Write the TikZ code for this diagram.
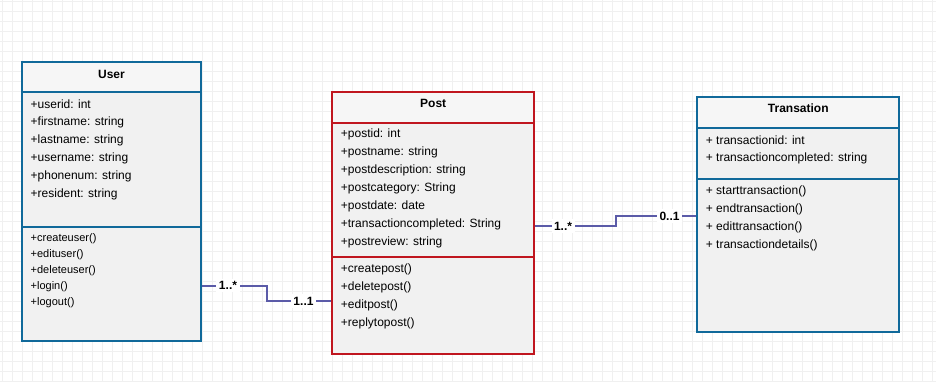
\documentclass[tikz,border=0pt]{standalone}
\usepackage{fontspec}
\setmainfont{Liberation Sans}
\begin{document}
\definecolor{gridc}{HTML}{F0F0F0}
\definecolor{bluec}{HTML}{10699A}
\definecolor{redc}{HTML}{C0161F}
\definecolor{assocc}{HTML}{5B5BA8}
\definecolor{headfill}{HTML}{F6F6F6}
\definecolor{bodyfill}{HTML}{F1F1F1}
\tikzset{
  classbox/.style={draw=#1, line width=2pt, fill=bodyfill, inner sep=0pt, outer sep=0pt, anchor=north west},
  outline/.style={draw=#1, line width=2pt},
  divider/.style={draw=#1, line width=2pt},
  title/.style={font=\fontsize{12}{14}\selectfont\bfseries, inner sep=0pt, anchor=center},
  member/.style={font=\fontsize{12}{14}\selectfont, inner sep=0pt, anchor=west},
  smallmember/.style={font=\fontsize{11}{13}\selectfont, inner sep=0pt, anchor=west},
  assoc/.style={draw=assocc, line width=2pt},
  mult/.style={font=\fontsize{12}{14}\selectfont\bfseries, fill=white, inner sep=2.5pt, anchor=center}
}
\begin{tikzpicture}[x=1pt,y=-1pt]
  \useasboundingbox (0,0) rectangle (936,381);
  \fill[white] (0,0) rectangle (936,381);
  % background grid
  \foreach \gx in {0,...,93} {\draw[gridc, line width=1pt] (2.5+10*\gx,0) -- (2.5+10*\gx,381);}
  \foreach \gy in {0,...,38} {\draw[gridc, line width=1pt] (0,1+10*\gy) -- (936,1+10*\gy);}

  % ---- User ----
  \node[classbox=bluec, minimum width=178.4pt, minimum height=279pt] (user) at (22.3,61.7) {};
  \fill[headfill] (user.north west) rectangle ([yshift=-30.6pt]user.north east);
  \draw[outline=bluec] (user.north west) rectangle (user.south east);
  \draw[divider=bluec] ([yshift=-30.6pt]user.north west) -- ([yshift=-30.6pt]user.north east);
  \draw[divider=bluec] ([yshift=-165.6pt]user.north west) -- ([yshift=-165.6pt]user.north east);
  \node[title] (usert) at (111.5,74) {User};
  \node[member] (ua1) at (30.5,104) {+userid: int};
  \node[member] (ua2) at (30.5,122) {+firstname: string};
  \node[member] (ua3) at (30.5,140) {+lastname: string};
  \node[member] (ua4) at (30.5,158) {+username: string};
  \node[member] (ua5) at (30.5,176) {+phonenum: string};
  \node[member] (ua6) at (30.5,194) {+resident: string};
  \node[smallmember] (um1) at (30.5,238.5) {+createuser()};
  \node[smallmember] (um2) at (30.5,254.5) {+edituser()};
  \node[smallmember] (um3) at (30.5,270.5) {+deleteuser()};
  \node[smallmember] (um4) at (30.5,286.5) {+login()};
  \node[smallmember] (um5) at (30.5,302.5) {+logout()};

  % ---- Post ----
  \node[classbox=redc, minimum width=201.7pt, minimum height=262.6pt] (post) at (332.3,91.7) {};
  \fill[headfill] (post.north west) rectangle ([yshift=-31pt]post.north east);
  \draw[outline=redc] (post.north west) rectangle (post.south east);
  \draw[divider=redc] ([yshift=-31pt]post.north west) -- ([yshift=-31pt]post.north east);
  \draw[divider=redc] ([yshift=-165.6pt]post.north west) -- ([yshift=-165.6pt]post.north east);
  \node[title] (postt) at (433.2,103.5) {Post};
  \node[member] (pa1) at (340.7,134) {+postid: int};
  \node[member] (pa2) at (340.7,152) {+postname: string};
  \node[member] (pa3) at (340.7,170) {+postdescription: string};
  \node[member] (pa4) at (340.7,188) {+postcategory: String};
  \node[member] (pa5) at (340.7,206) {+postdate: date};
  \node[member] (pa6) at (340.7,224) {+transactioncompleted: String};
  \node[member] (pa7) at (340.7,242) {+postreview: string};
  \node[member] (pm1) at (340.7,269) {+createpost()};
  \node[member] (pm2) at (340.7,287) {+deletepost()};
  \node[member] (pm3) at (340.7,305) {+editpost()};
  \node[member] (pm4) at (340.7,323) {+replytopost()};

  % ---- Transation ----
  \node[classbox=bluec, minimum width=202pt, minimum height=235pt] (trans) at (697.3,96.7) {};
  \fill[headfill] (trans.north west) rectangle ([yshift=-31pt]trans.north east);
  \draw[outline=bluec] (trans.north west) rectangle (trans.south east);
  \draw[divider=bluec] ([yshift=-31pt]trans.north west) -- ([yshift=-31pt]trans.north east);
  \draw[divider=bluec] ([yshift=-82.6pt]trans.north west) -- ([yshift=-82.6pt]trans.north east);
  \node[title] (transt) at (798.3,108.5) {Transation};
  \node[member] (ta1) at (705.7,140) {+ transactionid: int};
  \node[member] (ta2) at (705.7,158) {+ transactioncompleted: string};
  \node[member] (tm1) at (705.7,191.5) {+ starttransaction()};
  \node[member] (tm2) at (705.7,209.5) {+ endtransaction()};
  \node[member] (tm3) at (705.7,227.5) {+ edittransaction()};
  \node[member] (tm4) at (705.7,245.5) {+ transactiondetails()};

  % ---- associations ----
  \coordinate (upA) at (266.7,285.7);
  \coordinate (upB) at (266.7,301);
  \draw[assoc] ([xshift=1pt]user.east |- upA) -- (upA) -- (upB) -- ([xshift=-1pt]post.west |- upB);
  \node[mult] (m1) at (228,285.7) {1..*};
  \node[mult] (m2) at (303.5,301) {1..1};

  \coordinate (ptA) at (616,226);
  \coordinate (ptB) at (616,216);
  \draw[assoc] ([xshift=1pt]post.east |- ptA) -- (ptA) -- (ptB) -- ([xshift=-1pt]trans.west |- ptB);
  \node[mult] (m3) at (563,226) {1..*};
  \node[mult] (m4) at (669.5,216) {0..1};
\end{tikzpicture}
\end{document}
